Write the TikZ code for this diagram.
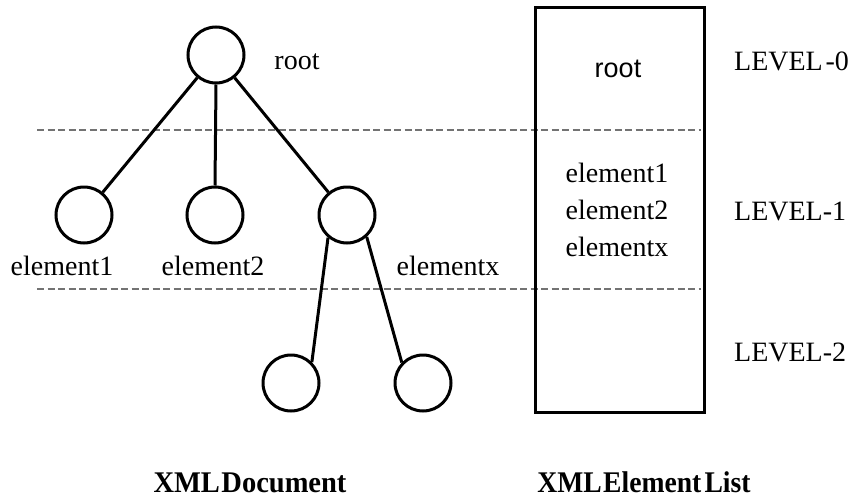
\documentclass[tikz,border=0pt]{standalone}
\usepackage{fontspec}
\setmainfont{Liberation Serif}
\newfontfamily\boxsans{Liberation Sans}
\begin{document}
\begin{tikzpicture}[x=1pt,y=-1pt,
  treenode/.style={circle,draw,line width=3pt,minimum size=56pt,inner sep=0pt},
  edge/.style={line width=3pt},
  sep/.style={draw=black!55,line width=1.8pt,dash pattern=on 7pt off 3.5pt},
  lbl/.style={font=\fontsize{28}{30}\selectfont,inner sep=0pt,anchor=base},
  caption/.style={font=\fontsize{30}{32}\selectfont\bfseries,inner sep=0pt,anchor=base}]
\useasboundingbox (0,0) rectangle (855,498);
% separators
\coordinate (s1a) at (37,130); \coordinate (s1b) at (701,130);
\coordinate (s2a) at (37,289); \coordinate (s2b) at (701,289);
\draw[sep] (s1a) -- (s1b);
\draw[sep] (s2a) -- (s2b);
% tree
\node[treenode] (root) at (216,55) {};
\node[treenode] (e1) at (84,215) {};
\node[treenode] (e2) at (215,215) {};
\node[treenode] (ex) at (347,215) {};
\node[treenode] (b1) at (291,383) {};
\node[treenode] (b2) at (423,383) {};
\draw[edge] (root) -- (e1);
\draw[edge] (root.south) -- (e2.north);
\draw[edge] (root) -- (ex);
\draw[edge] (ex.230) -- (b1.45);
\draw[edge] (ex.312) -- (b2.136);
% tree labels
\node[lbl] (lroot) at (297,69) {root};
\node[lbl] (le1) at (62,275) {element1};
\node[lbl] (le2) at (213,275) {element2};
\node[lbl] (lex) at (448,275) {elementx};
% list box
\node[draw,line width=3pt,minimum width=169pt,minimum height=405pt,inner sep=0pt] (box) at (619.5,209.5) {};
\node[lbl,font=\fontsize{27}{30}\selectfont\boxsans] (broot) at (618,77) {root};
\node[lbl] (b1t) at (617,182) {element1};
\node[lbl] (b2t) at (617,219) {element2};
\node[lbl] (bxt) at (617,256) {elementx};
% levels
\node[lbl,anchor=base west] (lv0) at (734,70) {LEVEL\hspace{0.1em}-0};
\node[lbl,anchor=base west] (lv1) at (734,220) {LEVEL-1};
\node[lbl,anchor=base west] (lv2) at (734,361) {LEVEL-2};
% captions
\node[caption] (c1) at (250,492) {\scalebox{0.95}[1]{XML\hspace{0.05em}Document}};
\node[caption] (c2) at (644,492) {\scalebox{0.92}[1]{XML\hspace{0.05em}Element\hspace{0.12em}List}};
\end{tikzpicture}
\end{document}
